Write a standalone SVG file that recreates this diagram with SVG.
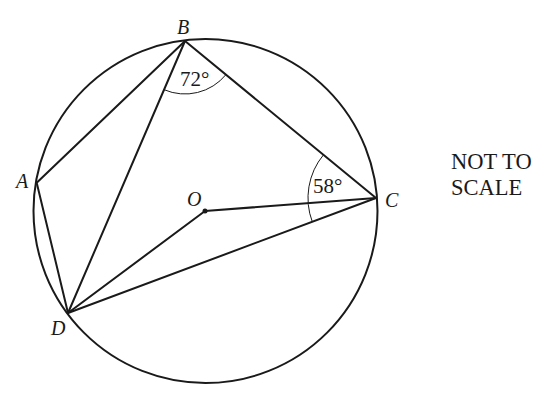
<svg xmlns="http://www.w3.org/2000/svg" width="537" height="405" viewBox="0 0 537 405">
<style>
.ln{fill:none;stroke:#1a1a1a;stroke-width:2;stroke-linejoin:round;stroke-linecap:round}
.arc{fill:none;stroke:#1a1a1a;stroke-width:1}
.lbl{font-family:"Liberation Serif",serif;font-style:italic;font-size:20px;fill:#1a1a1a}
.txt{font-family:"Liberation Serif",serif;font-size:21px;fill:#1a1a1a}
.note{font-family:"Liberation Serif",serif;font-size:22.5px;fill:#1a1a1a}
</style>
<rect width="537" height="405" fill="#fff"/>
<g id="circle"><circle cx="205.5" cy="211" r="172" class="ln"/></g>
<g id="connectors">
<path class="ln" d="M185,41 L376,198 L68,313 L36.7,182.7 Z"/>
<path class="ln" d="M185,41 L68,313"/>
<path class="ln" d="M376,198 L205,211 L68,313"/>
<path class="arc" d="M164.1,89.7 A53,53 0 0 0 225.9,74.7"/>
<path class="arc" d="M323.5,154.8 A68,68 0 0 0 312.3,221.8"/>
</g>
<g id="O"><circle cx="205" cy="211" r="2.5" fill="#1a1a1a"/><text class="lbl" x="187" y="206">O</text></g>
<g id="B"><text class="lbl" x="177" y="34">B</text></g>
<g id="A"><text class="lbl" x="16" y="188">A</text></g>
<g id="C"><text class="lbl" x="385" y="207">C</text></g>
<g id="D"><text class="lbl" x="51" y="335">D</text></g>
<g id="angles">
<text class="txt" x="180" y="86">72°</text>
<text class="txt" x="313" y="193">58°</text>
</g>
<g id="note">
<text class="note" x="451" y="169">NOT TO</text>
<text class="note" x="451" y="195">SCALE</text>
</g>
</svg>
